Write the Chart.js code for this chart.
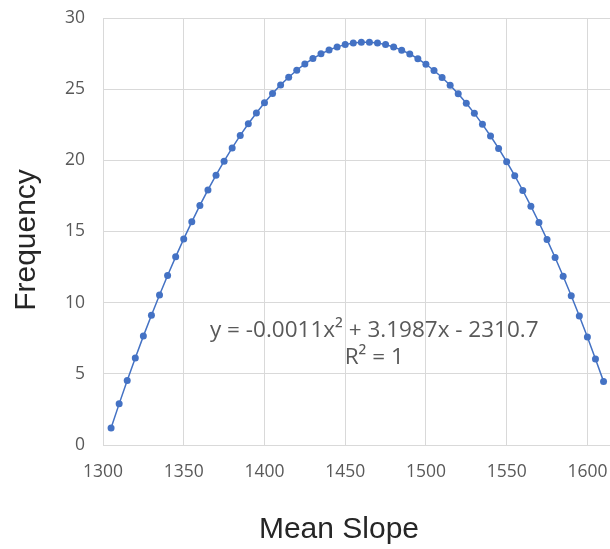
<!DOCTYPE html>
<html>
<head>
<meta charset="utf-8">
<script src="https://cdn.jsdelivr.net/npm/chart.js@4/dist/chart.umd.min.js"></script>
<style>
  html, body { margin: 0; padding: 0; background: #fff; }
  #wrap { width: 610px; height: 549px; }
</style>
</head>
<body>
<div id="wrap"><canvas id="chart" width="610" height="549"></canvas></div>
<script>
// mean slope values (x) and the frequency (y)
const meanSlope = [
  1305, 1310, 1315, 1320, 1325, 1330, 1335, 1340, 1345, 1350,
  1355, 1360, 1365, 1370, 1375, 1380, 1385, 1390, 1395, 1400,
  1405, 1410, 1415, 1420, 1425, 1430, 1435, 1440, 1445, 1450,
  1455, 1460, 1465, 1470, 1475, 1480, 1485, 1490, 1495, 1500,
  1505, 1510, 1515, 1520, 1525, 1530, 1535, 1540, 1545, 1550,
  1555, 1560, 1565, 1570, 1575, 1580, 1585, 1590, 1595, 1600,
  1605, 1610
];
const frequency = [
  1.20, 2.89, 4.53, 6.12, 7.65, 9.12, 10.54, 11.91, 13.22, 14.48,
  15.68, 16.83, 17.92, 18.96, 19.94, 20.87, 21.75, 22.57, 23.33, 24.04,
  24.70, 25.30, 25.84, 26.33, 26.77, 27.15, 27.48, 27.75, 27.97, 28.13,
  28.24, 28.29, 28.29, 28.24, 28.13, 27.96, 27.74, 27.47, 27.14, 26.75,
  26.31, 25.82, 25.27, 24.67, 24.01, 23.30, 22.53, 21.71, 20.84, 19.90,
  18.92, 17.88, 16.78, 15.63, 14.43, 13.17, 11.86, 10.49, 9.06, 7.59,
  6.05, 4.47
];
const xTicks = [1300, 1350, 1400, 1450, 1500, 1550, 1600];
const yTicks = [0, 5, 10, 15, 20, 25, 30];

const trendLabel = ["y = -0.0011x\u00B2 + 3.1987x - 2310.7", "R\u00B2 = 1"];
const xTitle = "Mean Slope";
const yTitle = "Frequency";

const lineColor = "#4472C4";
const gridColor = "#d9d9d9";
const tickColor = "#595959";

// titles + trendline label, drawn on the canvas
const textPlugin = {
  id: "textPlugin",
  afterDraw(chart) {
    const ctx = chart.ctx;
    const x = chart.scales.x, y = chart.scales.y;
    ctx.save();
    ctx.fillStyle = "#262626";
    ctx.font = "30px 'Liberation Sans', Arial, sans-serif";
    ctx.textAlign = "center";
    ctx.textBaseline = "middle";
    ctx.fillText(xTitle, 339, 530);
    ctx.translate(27, 240);
    ctx.rotate(-Math.PI / 2);
    ctx.fillText(yTitle, 0, 0);
    ctx.restore();

    ctx.save();
    ctx.fillStyle = tickColor;
    ctx.font = "22.5px 'Open Sans', sans-serif";
    ctx.textAlign = "center";
    ctx.textBaseline = "middle";
    ctx.fillText(trendLabel[0], x.getPixelForValue(1468), y.getPixelForValue(8.05));
    ctx.fillText(trendLabel[1], x.getPixelForValue(1468), y.getPixelForValue(6.15));
    ctx.restore();
  }
};

new Chart(document.getElementById("chart"), {
  type: "scatter",
  data: {
    datasets: [{
      data: meanSlope.map((v, i) => ({ x: v, y: frequency[i] })),
      showLine: true,
      borderColor: lineColor,
      backgroundColor: lineColor,
      borderWidth: 1.5,
      pointRadius: 3.5,
      pointBorderWidth: 0,
      tension: 0
    }]
  },
  options: {
    responsive: false,
    animation: false,
    layout: { autoPadding: false, padding: { top: 18, left: 0, right: 0, bottom: 0 } },
    plugins: {
      legend: { display: false },
      tooltip: { enabled: false }
    },
    scales: {
      x: {
        type: "linear",
        min: 1300,
        max: 1614,
        afterFit: s => { s.height = 104; s.paddingLeft = 0; s.paddingRight = 0; },
        afterBuildTicks: s => { s.ticks = xTicks.map(v => ({ value: v })); },
        grid: { color: gridColor, drawTicks: false },
        border: { color: gridColor },
        ticks: {
          color: tickColor,
          padding: 17,
          maxRotation: 0,
          callback: v => String(v),
          font: { family: "'Open Sans', sans-serif", size: 17.5 }
        }
      },
      y: {
        min: 0,
        max: 30,
        afterFit: s => { s.width = 103; s.paddingTop = 0; s.paddingBottom = 0; },
        afterBuildTicks: s => { s.ticks = yTicks.map(v => ({ value: v })); },
        grid: { color: gridColor, drawTicks: false },
        border: { color: gridColor },
        ticks: {
          color: tickColor,
          padding: 18,
          callback: v => String(v),
          font: { family: "'Open Sans', sans-serif", size: 17.5 }
        }
      }
    }
  },
  plugins: [textPlugin]
});
</script>
</body>
</html>
